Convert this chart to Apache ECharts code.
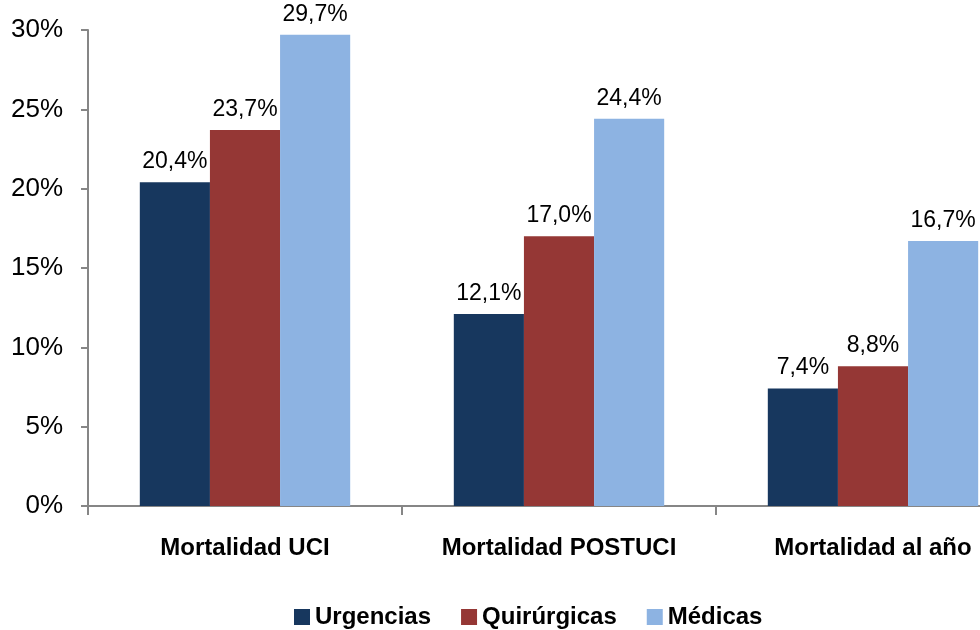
<!DOCTYPE html>
<html>
<head>
<meta charset="utf-8">
<script src="https://cdn.jsdelivr.net/npm/echarts@6/dist/echarts.min.js"></script>
<style>
  html, body { margin: 0; padding: 0; background: #fff; overflow: hidden; }
  /* the canvas is wider than the window: the last category band runs past the right edge */
  #chart { width: 1040px; height: 630px; }
</style>
</head>
<body>
<div id="chart"></div>
<script>
// Mortality by admission type
const categories = ['Mortalidad UCI', 'Mortalidad POSTUCI', 'Mortalidad al año'];
const urgencias = [20.4, 12.1, 7.4];
const quirurgicas = [23.7, 17.0, 8.8];
const medicas = [29.7, 24.4, 16.7];
const seriesNames = ['Urgencias', 'Quirúrgicas', 'Médicas'];
const yTicks = [0, 5, 10, 15, 20, 25, 30];

const colors = ['#17375E', '#953735', '#8DB3E2'];
const fontFamily = 'Liberation Sans, Arial, sans-serif';

const fmt = v => v.toFixed(1).replace('.', ',') + '%';

function bar(name, data, color) {
  return {
    name: name,
    type: 'bar',
    data: data,
    barGap: '0%',
    barCategoryGap: '33%',
    itemStyle: { color: color },
    label: {
      show: true,
      position: 'top',
      distance: 9,
      color: '#000',
      fontFamily: fontFamily,
      fontSize: 23,
      formatter: p => fmt(p.value)
    }
  };
}

const chart = echarts.init(document.getElementById('chart'));
chart.setOption({
  animation: false,
  backgroundColor: '#fff',
  grid: { left: 88, width: 942, top: 30, height: 476 },
  legend: {
    data: seriesNames,
    left: 289,
    top: 600,
    itemWidth: 16,
    itemHeight: 16,
    itemGap: 30,
    icon: 'rect',
    textStyle: { fontFamily: fontFamily, fontSize: 24, fontWeight: 'bold', color: '#000' }
  },
  xAxis: {
    type: 'category',
    data: categories,
    axisLine: { lineStyle: { color: '#868686', width: 2 } },
    axisTick: { show: true, length: 9, lineStyle: { color: '#868686', width: 2 } },
    axisLabel: {
      margin: 30,
      interval: 0,
      color: '#000',
      fontFamily: fontFamily,
      fontSize: 24,
      fontWeight: 'bold'
    }
  },
  yAxis: {
    type: 'value',
    min: yTicks[0],
    max: yTicks[yTicks.length - 1],
    interval: 5,
    splitLine: { show: false },
    axisLine: { show: true, lineStyle: { color: '#868686', width: 2 } },
    axisTick: { show: true, length: 7, lineStyle: { color: '#868686', width: 2 } },
    axisLabel: {
      margin: 25,
      color: '#000',
      fontFamily: fontFamily,
      fontSize: 26,
      formatter: v => v + '%'
    }
  },
  series: [
    bar(seriesNames[0], urgencias, colors[0]),
    bar(seriesNames[1], quirurgicas, colors[1]),
    bar(seriesNames[2], medicas, colors[2])
  ]
});
</script>
</body>
</html>
